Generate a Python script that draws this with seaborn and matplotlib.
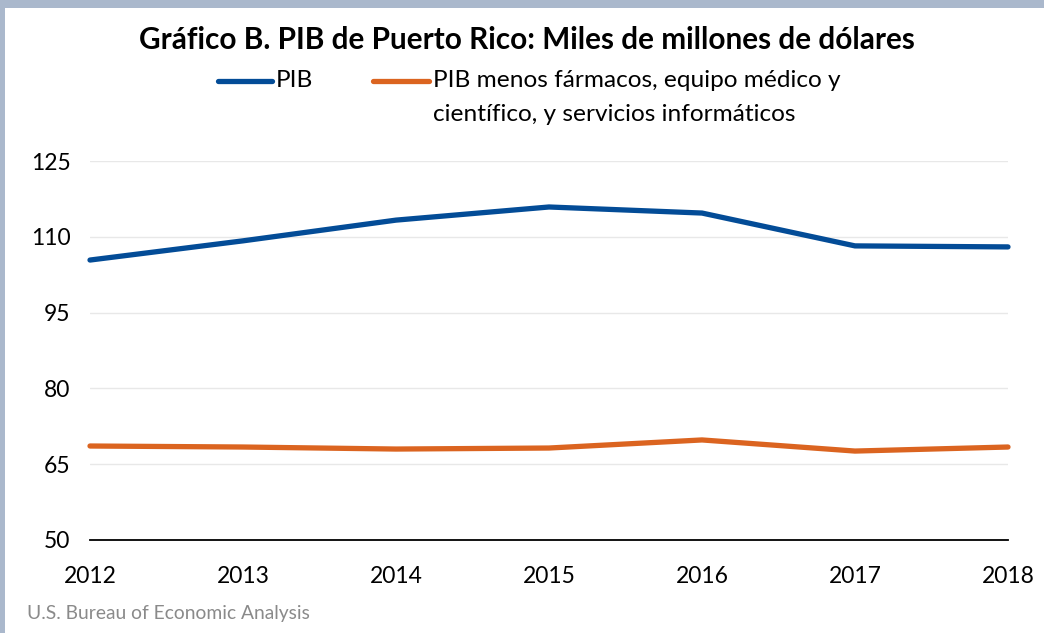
import matplotlib.pyplot as plt
import matplotlib.lines as mlines
import matplotlib.patches as mpatches
import pandas as pd
import seaborn as sns

sns.set_style('white')
plt.rcParams['font.family'] = ['Lato', 'DejaVu Sans']
plt.rcParams['text.color'] = 'black'

# data (miles de millones de dólares)
years = [2012, 2013, 2014, 2015, 2016, 2017, 2018]
pib = [105.4, 109.2, 113.3, 115.9, 114.7, 108.2, 108.0]
pib_menos = [68.6, 68.4, 68.0, 68.2, 69.8, 67.6, 68.4]
series = ['PIB', 'PIB menos fármacos, equipo médico y\ncientífico, y servicios informáticos']
yticks = [50, 65, 80, 95, 110, 125]

colors = {series[0]: '#034C97', series[1]: '#DB6420'}

df = pd.DataFrame({
    'year': years * 2,
    'value': pib + pib_menos,
    'serie': [series[0]] * len(years) + [series[1]] * len(years),
})

fig = plt.figure(figsize=(10.44, 6.33), dpi=100, facecolor='#aab8cc')
# white panel inside the frame
fig.patches.append(mpatches.Rectangle((5 / 1044, 0), 1, 1 - 8 / 633,
                                      transform=fig.transFigure,
                                      facecolor='white', edgecolor='none', zorder=-5))

ax = fig.add_axes([90 / 1044, 1 - 540 / 633, 918 / 1044, 379 / 633])
ax.set_facecolor('none')

sns.lineplot(data=df, x='year', y='value', hue='serie', palette=colors,
             linewidth=3.8, ax=ax, legend=False, clip_on=False)
for ln in ax.get_lines():
    ln.set_solid_capstyle('round')
    ln.set_solid_joinstyle('miter')

ax.set_xlim(years[0], years[-1])
ax.set_ylim(yticks[0], yticks[-1])
ax.set_yticks(yticks)
ax.set_xticks(years)
ax.tick_params(axis='both', length=0, labelsize=16.5, colors='black')
ax.tick_params(axis='y', pad=14)
ax.tick_params(axis='x', pad=19)
ax.set_xlabel('')
ax.set_ylabel('')
for s in ['top', 'right', 'left']:
    ax.spines[s].set_visible(False)
ax.spines['bottom'].set_color('black')
ax.spines['bottom'].set_linewidth(1.3)
ax.grid(axis='y', color='#e8e8e8', linewidth=1)
ax.set_axisbelow(True)

fig.text(527 / 1044, 1 - 40 / 633,
         'Gráfico B. PIB de Puerto Rico: Miles de millones de dólares',
         ha='center', va='center', fontsize=21.4, fontweight='bold')

# legend drawn by hand so the handle sits on the first text line
leg_x = [(218, 276), (373, 433)]
for (x0, tx), name in zip(leg_x, series):
    fig.lines.append(mlines.Line2D([x0 / 1044, (tx - 4) / 1044], [1 - 81 / 633] * 2,
                                   transform=fig.transFigure, color=colors[name],
                                   linewidth=3.8, solid_capstyle='round'))
    fig.text(tx / 1044, 1 - 70 / 633, name, ha='left', va='top',
             fontsize=17.6, linespacing=1.75)

fig.text(27 / 1044, 1 - 614 / 633, 'U.S. Bureau of Economic Analysis',
         ha='left', va='center', fontsize=13.9, color='#8a8a8a')

fig.savefig('out.png', dpi=100, facecolor=fig.get_facecolor())
